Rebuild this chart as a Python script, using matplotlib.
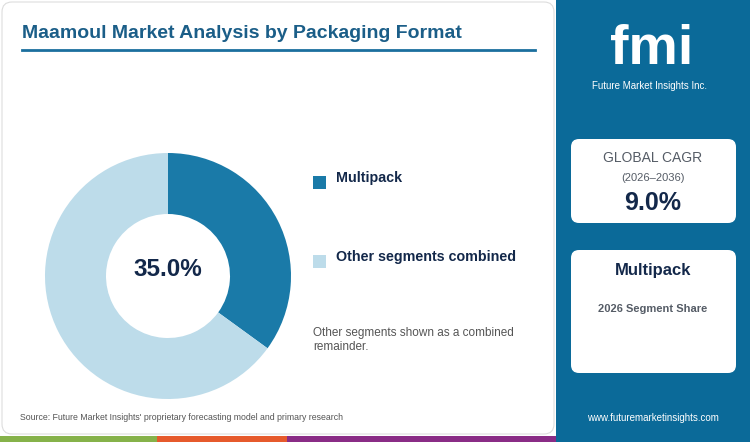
import matplotlib
matplotlib.use("Agg")
import matplotlib.pyplot as plt
from matplotlib.patches import Wedge, Rectangle, FancyBboxPatch

categories = ["Multipack", "Other segments combined"]
shares = [35.0, 65.0]
cagr = "9.0%"
colors = ["#1a7aa8", "#bddcea"]

fig = plt.figure(figsize=(7.5, 4.42), dpi=100)
ax = fig.add_axes([0, 0, 1, 1])
ax.set_xlim(0, 750); ax.set_ylim(442, 0); ax.axis("off")
F = "Liberation Sans"

# left card
ax.add_patch(FancyBboxPatch((2, 2), 552, 432, boxstyle="round,pad=0,rounding_size=10",
                            fc="white", ec="#dddddd", lw=0.8))
ax.text(22, 33, "Maamoul Market Analysis by Packaging Format", fontsize=14, fontweight="bold",
        color="#1b5e88", family=F, va="center")
ax.plot([22, 535], [50, 50], color="#1b6f9e", lw=2)

# donut
cx, cy, R, r = 168, 276, 123, 62
start = 90
for v, c in zip(shares, colors):
    ang = v / sum(shares) * 360
    ax.add_patch(Wedge((cx, cy), R, -(start), -(start) + ang, width=R - r, fc=c, ec="none"))
    start -= ang
ax.text(cx, cy - 7, f"{shares[0]:.1f}%", fontsize=17.5, fontweight="bold", color="#13284a",
        ha="center", va="center", family=F)

# legend
for i, (lab, c) in enumerate(zip(categories, colors)):
    y = 182 + i * 79
    ax.add_patch(Rectangle((313, y - 6), 13, 13, fc=c, ec="none"))
    ax.text(336, y - 4, lab, fontsize=10.3, fontweight="bold", color="#13284a", va="center", family=F)
ax.text(313, 340, "Other segments shown as a combined\nremainder.", fontsize=8.5, color="#555555",
        va="center", family=F, linespacing=1.3)

ax.text(20, 418, "Source: Future Market Insights' proprietary forecasting model and primary research",
        fontsize=6.3, color="#555555", va="center", family=F)

# bottom stripe
for x0, x1, c in [(0, 157, "#86b24a"), (157, 287, "#e65a2c"), (287, 556, "#8a2c86")]:
    ax.add_patch(Rectangle((x0, 436), x1 - x0, 6, fc=c, ec="none"))

# right panel
ax.add_patch(Rectangle((556, 0), 194, 442, fc="#0b6a99", ec="none"))
ax.text(652, 50, "fmi", fontsize=40, fontweight="bold", color="white", ha="center", va="center", family=F)
ax.text(650, 86, "Future Market Insights Inc.", fontsize=7, color="white", ha="center", va="center", family=F)

ax.add_patch(FancyBboxPatch((571, 139), 165, 84, boxstyle="round,pad=0,rounding_size=8", fc="white", ec="none"))
ax.text(653, 158, "GLOBAL CAGR", fontsize=10, color="#555c66", ha="center", va="center", family=F)
ax.text(653, 178, "(2026–2036)", fontsize=8, color="#555c66", ha="center", va="center", family=F)
ax.text(653, 203, cagr, fontsize=18, fontweight="bold", color="#13284a", ha="center", va="center", family=F)

ax.add_patch(FancyBboxPatch((571, 250), 165, 123, boxstyle="round,pad=0,rounding_size=8", fc="white", ec="none"))
ax.text(653, 271, categories[0], fontsize=12, fontweight="bold", color="#13284a", ha="center", va="center", family=F)
ax.text(653, 309, "2026 Segment Share", fontsize=8, fontweight="bold", color="#555c66", ha="center", va="center", family=F)
ax.text(653, 418, "www.futuremarketinsights.com", fontsize=7, color="white", ha="center", va="center", family=F)

fig.savefig("out.png", dpi=100)
